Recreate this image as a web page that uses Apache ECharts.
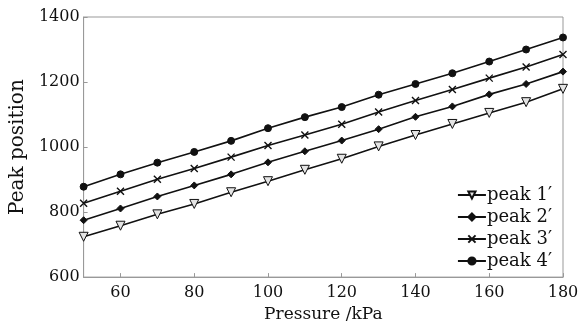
<!DOCTYPE html>
<html><head><meta charset="utf-8">
<script src="https://cdn.jsdelivr.net/npm/echarts@6/dist/echarts.min.js"></script>
<style>html,body{margin:0;padding:0;background:#fff}#c{width:584px;height:328px}</style>
</head><body><div id="c"></div>
<script>
var pressure = [50,60,70,80,90,100,110,120,130,140,150,160,170,180];
var peak1 = [724,758,793,825,861,895,930,964,1002,1037,1071,1105,1138,1179];
var peak2 = [775,811,848,882,916,953,987,1020,1055,1093,1125,1162,1194,1232];
var peak3 = [827,864,901,934,969,1005,1037,1070,1108,1143,1177,1212,1246,1285];
var peak4 = [878,916,952,985,1019,1058,1092,1123,1161,1194,1227,1263,1300,1337];
var xTicks = [60,80,100,120,140,160,180];
var seriesNames = ['peak 1\u2032','peak 2\u2032','peak 3\u2032','peak 4\u2032'];

var crossPath = 'path://M0,0L10,10M10,0L0,10';
function pairs(vals){ return pressure.map(function(p,i){ return [p, vals[i]]; }); }
var font = 'DejaVu Serif';
var chart = echarts.init(document.getElementById('c'));
function mk(name, vals, symbol, size, fill, extra){
  return Object.assign({
    name: name, type: 'line', data: pairs(vals), symbol: symbol, symbolSize: size,
    lineStyle: {color: '#111', width: 1.6},
    itemStyle: {color: fill, borderColor: '#111', borderWidth: 1},
    animation: false
  }, extra || {});
}
chart.setOption({
  animation: false,
  textStyle: {fontFamily: font},
  grid: {left: 82, right: 21, top: 17, bottom: 47, show: true, borderColor: '#999', borderWidth: 1},
  legend: {
    right: 27, top: 181, orient: 'vertical', itemWidth: 28, itemHeight: 9, itemGap: 4,
    textStyle: {fontFamily: font, fontSize: 18, color: '#111', padding: [0,0,0,-4], lineHeight: 18},
    data: seriesNames
  },
  xAxis: {
    type: 'value', min: 50, max: 180,
    name: 'Pressure /kPa', nameLocation: 'middle', nameGap: 27,
    nameTextStyle: {fontFamily: font, fontSize: 17, color: '#111'},
    axisLine: {lineStyle: {color: '#999'}},
    axisTick: {inside: true, length: 4, lineStyle: {color: '#999'}, customValues: xTicks},
    axisLabel: {fontFamily: font, fontSize: 16, color: '#111', margin: 8, customValues: xTicks},
    splitLine: {show: false}
  },
  yAxis: {
    type: 'value', min: 600, max: 1400, interval: 200,
    name: 'Peak position', nameLocation: 'middle', nameGap: 53,
    nameTextStyle: {fontFamily: font, fontSize: 20, color: '#111'},
    axisLine: {show: true, lineStyle: {color: '#999'}},
    axisTick: {show: true, inside: true, length: 4, lineStyle: {color: '#999'}},
    axisLabel: {fontFamily: font, fontSize: 16, color: '#111', margin: 4, formatter: function(v){ return String(v); }},
    splitLine: {show: false}
  },
  series: [
    mk(seriesNames[0], peak1, 'triangle', 9, '#e4e4e4', {symbolRotate: 180}),
    mk(seriesNames[1], peak2, 'diamond', 7, '#111'),
    mk(seriesNames[2], peak3, crossPath, 7, '#111', {itemStyle: {color: 'none', borderColor: '#111', borderWidth: 1.4}}),
    mk(seriesNames[3], peak4, 'circle', 7, '#111')
  ]
});
</script></body></html>
